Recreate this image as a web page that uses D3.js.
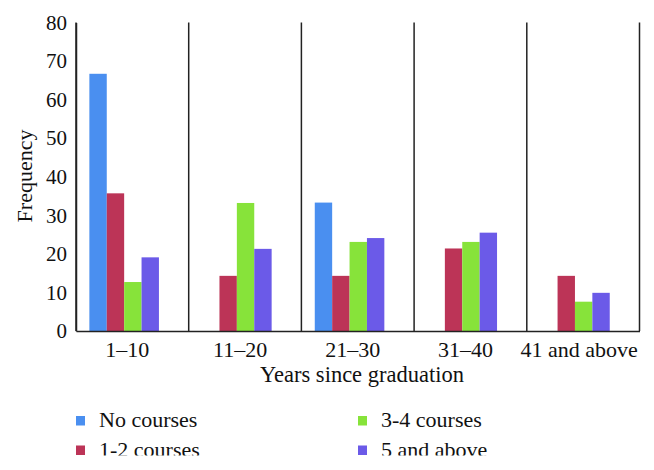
<!DOCTYPE html>
<html><head><meta charset="utf-8">
<script src="https://cdn.jsdelivr.net/npm/d3@7"></script>
<style>body{margin:0;background:#fff}svg{display:block}text{font-family:"Liberation Serif","Times New Roman",serif;fill:#111}</style>
</head><body>
<svg id="c" width="654" height="470"></svg>
<script>
const categories = ["1\u201310", "11\u201320", "21\u201330", "31\u201340", "41 and above"];
const seriesNames = ["No courses", "1-2 courses", "3-4 courses", "5 and above"];
const noCourses   = [66.7, 0, 33.3, 0, 0];
const oneTwo      = [35.7, 14.3, 14.3, 21.4, 14.3];
const threeFour   = [12.7, 33.2, 23.1, 23.1, 7.6];
const fiveAbove   = [19.1, 21.3, 24.1, 25.5, 9.9];
const yTicks = [0, 10, 20, 30, 40, 50, 60, 70, 80];
const colors = ["#4a8ff0", "#bc3457", "#87e33a", "#6b5ae8"];

const seriesValues = [noCourses, oneTwo, threeFour, fiveAbove];
const svg = d3.select("#c");
const L = 76, R = 639.5, T = 22.5, B = 331;
const x = d3.scaleBand().domain(categories).range([L, R]).padding(0);
const xs = d3.scaleBand().domain(seriesNames).range([0, x.bandwidth()])
  .paddingInner(0).paddingOuter(1.24).align(0.31);
const y = d3.scaleLinear().domain([0, 80]).range([B, T]);

// bars
categories.forEach((c, ci) => {
  const g = svg.append("g").attr("transform", `translate(${x(c)},0)`);
  seriesNames.forEach((s, si) => {
    const v = seriesValues[si][ci];
    if (!v) return;
    g.append("rect").attr("x", xs(s)).attr("width", xs.bandwidth())
      .attr("y", y(v)).attr("height", y(0) - y(v)).attr("fill", colors[si]);
  });
});

// separators
const seps = categories.map(c => x(c) + x.bandwidth()).concat([x(categories[0])]);
svg.append("g").selectAll("line").data(seps).join("line")
  .attr("x1", d => d).attr("x2", d => d).attr("y1", y(80)).attr("y2", y(0))
  .attr("stroke", "#222").attr("stroke-width", 1.5);

// y axis
const ya = svg.append("g").attr("transform", `translate(${L},0)`)
  .call(d3.axisLeft(y).tickValues(yTicks).tickSize(0).tickPadding(9));
ya.select(".domain").attr("stroke", "#222").attr("stroke-width", 1.5);
ya.selectAll("text").style("font-size", "21px").attr("fill", "#111")
  .style("font-family", '"Liberation Serif", serif');

// x axis
const xa = svg.append("g").attr("transform", `translate(0,${B})`)
  .call(d3.axisBottom(x).tickSize(0).tickPadding(10));
xa.select(".domain").attr("stroke", "#222").attr("stroke-width", 1.5);
xa.selectAll("text").style("font-size", "22px").attr("fill", "#111")
  .style("font-family", '"Liberation Serif", serif').attr("dx", -5);
xa.selectAll(".tick").filter((d, i) => i === 4).select("text").attr("dx", -4);

svg.append("text").attr("x", 362).attr("y", 382).attr("text-anchor", "middle")
  .style("font-size", "22.5px").text("Years since graduation");
svg.append("text").attr("transform", "translate(32,176) rotate(-90)")
  .attr("text-anchor", "middle").style("font-size", "22px").text("Frequency");

// legend (bottom row cropped as in the source figure)
svg.append("clipPath").attr("id", "legclip").append("rect")
  .attr("x", 0).attr("y", 395).attr("width", 654).attr("height", 60.5);
const leg = svg.append("g").attr("clip-path", "url(#legclip)");
const legPos = [[76, 421.5], [76, 451], [358, 421.5], [358, 451]];
seriesNames.forEach((s, i) => {
  const [lx, ly] = legPos[i];
  leg.append("rect").attr("x", lx).attr("y", ly - 5.5).attr("width", 9).attr("height", 9.5)
    .attr("fill", colors[i]);
  leg.append("text").attr("x", lx + 23).attr("y", ly + 5.5).style("font-size", "22px").text(s);
});
</script>
</body></html>
